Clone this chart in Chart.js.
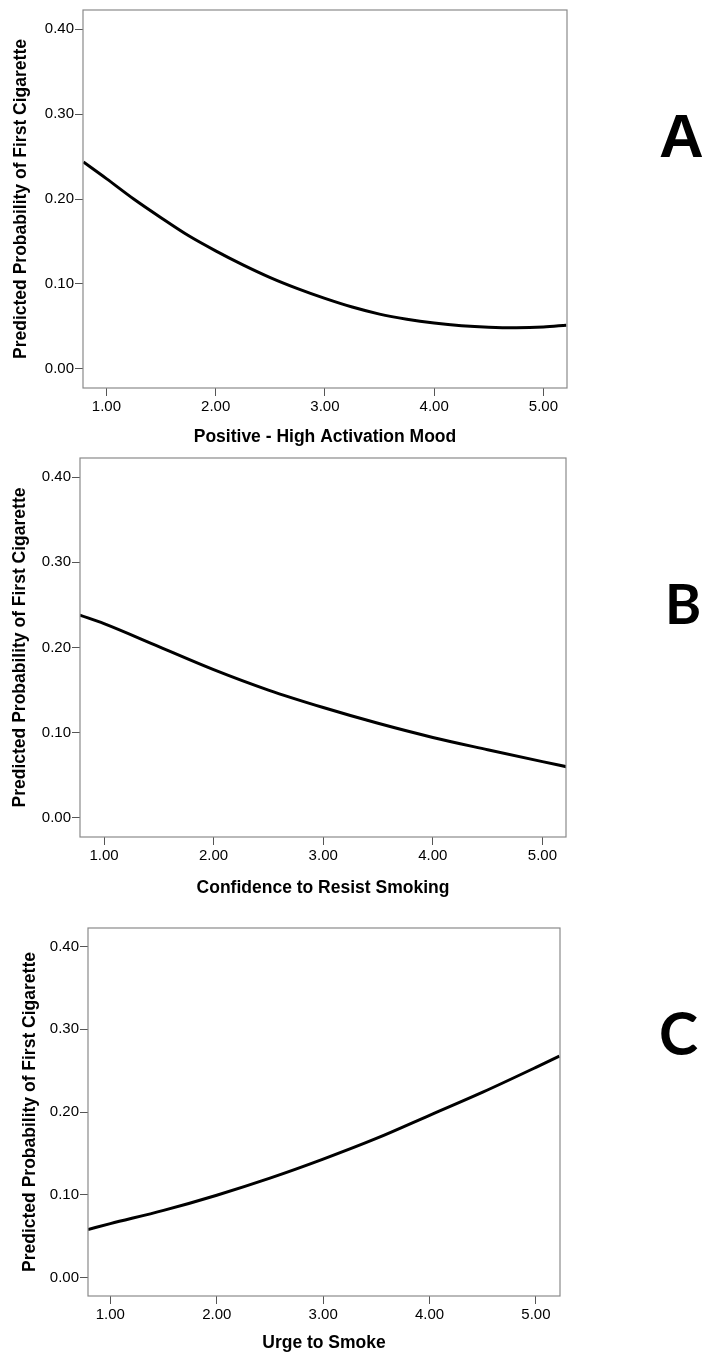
<!DOCTYPE html>
<html>
<head>
<meta charset="utf-8">
<script src="https://cdn.jsdelivr.net/npm/chart.js@4.4.1/dist/chart.umd.min.js"></script>
<style>
  body { margin: 0; background: #fff; }
  #wrap { position: relative; width: 702px; height: 1355px; overflow: hidden; }
  .panel { position: absolute; left: 0; }
  .tag { position: absolute; color: #000; font-weight: bold; line-height: 1; }
</style>
</head>
<body>
<div id="wrap">
  <canvas id="chartA" class="panel" style="top:0px" width="702" height="448"></canvas>
  <canvas id="chartB" class="panel" style="top:448px" width="702" height="451"></canvas>
  <canvas id="chartC" class="panel" style="top:899px" width="702" height="456"></canvas>
  <div class="tag" style="left:659px;top:105px;font-family:'Liberation Sans',Arial,sans-serif;font-size:62px;">A</div>
  <div class="tag" style="left:665px;top:576px;font-family:Lato,'Open Sans',sans-serif;font-size:55px;">B</div>
  <div class="tag" style="left:659px;top:1003px;font-family:Lato,'Open Sans',sans-serif;font-size:59px;">C</div>
</div>
<script>
// values
var yTicks = [0, 0.1, 0.2, 0.3, 0.4];
var xTicks = [1, 2, 3, 4, 5];
var yTitle = 'Predicted Probability of First Cigarette';

var xA = [0.79, 1.0, 1.25, 1.5, 1.75, 2.0, 2.25, 2.5, 2.75, 3.0, 3.25, 3.5, 3.75, 4.0, 4.25, 4.5, 4.75, 5.0, 5.21];
var yA = [0.2435, 0.224, 0.200, 0.178, 0.157, 0.139, 0.1225, 0.1075, 0.0945, 0.083, 0.0728, 0.0645, 0.0585, 0.054, 0.0508, 0.049, 0.0484, 0.0493, 0.0515];

var xB = [0.78, 1.0, 1.5, 2.0, 2.5, 3.0, 3.5, 4.0, 4.5, 5.0, 5.22];
var yB = [0.238, 0.228, 0.201, 0.174, 0.150, 0.1295, 0.111, 0.0944, 0.080, 0.066, 0.060];

var xC = [0.79, 1.0, 1.5, 2.0, 2.5, 3.0, 3.5, 4.0, 4.5, 5.0, 5.22];
var yC = [0.058, 0.065, 0.081, 0.0994, 0.120, 0.143, 0.168, 0.196, 0.224, 0.254, 0.2676];

var FONT = "'Liberation Sans', Arial, sans-serif";

var boxPlugin = {
    id: 'box',
    afterDraw: function(chart) {
        var a = chart.chartArea;
        var ctx = chart.ctx;
        ctx.save();
        ctx.strokeStyle = '#8a8a8a';
        ctx.lineWidth = 1.2;
        ctx.strokeRect(a.left, a.top, a.right - a.left, a.bottom - a.top);
        ctx.restore();
    }
};

function GeneratePanel(id, xs, ys, xTitle, box) {
    var canvas = document.getElementById(id);
    var h = canvas.height;
    var points = xs.map(function(x, i) { return { x: x, y: ys[i] }; });

    return new Chart(canvas.getContext('2d'), {
        type: 'line',
        data: {
            datasets: [{
                data: points,
                borderColor: '#000',
                borderWidth: 3,
                pointRadius: 0,
                fill: false,
                cubicInterpolationMode: 'monotone'
            }]
        },
        options: {
            responsive: false,
            animation: false,
            devicePixelRatio: 1,
            layout: { padding: { top: box.top, right: 702 - box.right, left: 0, bottom: 0 } },
            plugins: { legend: { display: false }, tooltip: { enabled: false } },
            scales: {
                x: {
                    type: 'linear',
                    min: box.xmin,
                    max: box.xmax,
                    afterBuildTicks: function(s) { s.ticks = xTicks.map(function(v) { return { value: v }; }); },
                    afterFit: function(s) { s.height = h - box.bottom; },
                    grid: { drawOnChartArea: false, drawTicks: true, tickLength: 8, color: '#555' },
                    border: { display: false },
                    ticks: {
                        padding: 2,
                        maxRotation: 0,
                        color: '#000',
                        font: { family: FONT, size: 15 },
                        callback: function(v) { return v.toFixed(2); }
                    },
                    title: {
                        display: true,
                        text: xTitle,
                        color: '#000',
                        font: { family: FONT, size: 17.5, weight: 'bold' },
                        padding: { top: 0, bottom: box.xtp }
                    }
                },
                y: {
                    type: 'linear',
                    min: -0.0225,
                    max: 0.4225,
                    afterBuildTicks: function(s) { s.ticks = yTicks.map(function(v) { return { value: v }; }); },
                    afterFit: function(s) { s.width = box.left; },
                    grid: { drawOnChartArea: false, drawTicks: true, tickLength: 8, color: '#555' },
                    border: { display: false },
                    ticks: {
                        padding: 1,
                        color: '#000',
                        font: { family: FONT, size: 15 },
                        callback: function(v) { return v.toFixed(2); }
                    },
                    title: {
                        display: true,
                        text: yTitle,
                        color: '#000',
                        font: { family: FONT, size: 17.5, weight: 'bold' },
                        padding: { top: box.ytp, bottom: 0 }
                    }
                }
            }
        },
        plugins: [boxPlugin]
    });
}

GeneratePanel('chartA', xA, yA, 'Positive - High Activation Mood',
    { left: 83, top: 10, right: 567, bottom: 388, xmin: 0.786, xmax: 5.216, xtp: 0, ytp: 11 });
GeneratePanel('chartB', xB, yB, 'Confidence to Resist Smoking',
    { left: 80, top: 9, right: 566, bottom: 389, xmin: 0.781, xmax: 5.215, xtp: 0.5, ytp: 9.5 });
GeneratePanel('chartC', xC, yC, 'Urge to Smoke',
    { left: 88, top: 29, right: 560, bottom: 397, xmin: 0.79, xmax: 5.226, xtp: 1.5, ytp: 19.5 });
</script>
</body>
</html>
